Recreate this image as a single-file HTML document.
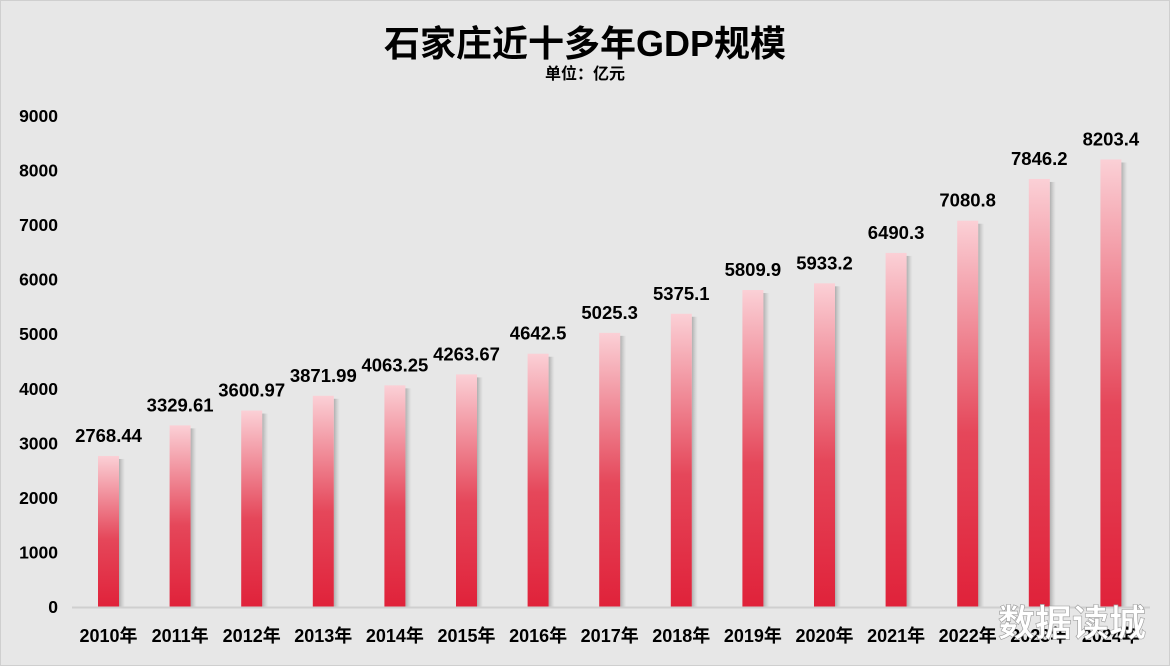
<!DOCTYPE html>
<html><head><meta charset="utf-8"><style>
html,body{margin:0;padding:0;background:#e7e7e7;}
svg{display:block;font-family:"Liberation Sans","Noto Sans CJK SC",sans-serif;}
</style></head><body>
<svg width="1170" height="666" viewBox="0 0 1170 666">
<defs>
<linearGradient id="g" x1="0" y1="0" x2="0" y2="1">
<stop offset="0" stop-color="#fbd0d6"/><stop offset="0.55" stop-color="#e5475a"/><stop offset="1" stop-color="#e0223a"/>
</linearGradient>
<linearGradient id="sh" x1="0" y1="0" x2="1" y2="0">
<stop offset="0" stop-color="#888" stop-opacity="0.6"/><stop offset="1" stop-color="#aaa" stop-opacity="0"/>
</linearGradient>
</defs>
<rect x="0.5" y="0.5" width="1169" height="665" fill="#e7e7e7" stroke="#cfcfcf"/>
<text x="585" y="56" text-anchor="middle" font-size="36" font-weight="bold" fill="#000">石家庄近十多年GDP规模</text>
<text x="585" y="79" text-anchor="middle" font-size="16" font-weight="bold" fill="#000">单位：亿元</text>
<g id="yax"></g><g id="bars"></g>
<line x1="72" y1="607.5" x2="1150" y2="607.5" stroke="#cfcfcf" stroke-width="2"/>
<text x="1072" y="636" text-anchor="middle" font-size="37" font-weight="bold" fill="#fff" stroke="#999" stroke-width="0.6">数据读城</text>
</svg>
<script>
const categories=["2010年","2011年","2012年","2013年","2014年","2015年","2016年","2017年","2018年","2019年","2020年","2021年","2022年","2023年","2024年"];
const values=[2768.44,3329.61,3600.97,3871.99,4063.25,4263.67,4642.5,5025.3,5375.1,5809.9,5933.2,6490.3,7080.8,7846.2,8203.4];
const valueLabels=["2768.44","3329.61","3600.97","3871.99","4063.25","4263.67","4642.5","5025.3","5375.1","5809.9","5933.2","6490.3","7080.8","7846.2","8203.4"];
const yTicks=[0,1000,2000,3000,4000,5000,6000,7000,8000,9000];
const NS="http://www.w3.org/2000/svg";
const y0=607,y9=116,max=9000;
function yScale(v){return y0-(v/max)*(y0-y9);}
function xScale(i){return 108.5+i*71.6;}
const yax=document.getElementById('yax'),bars=document.getElementById('bars');
function mk(tag,attrs,parent){const e=document.createElementNS(NS,tag);for(const k in attrs)e.setAttribute(k,attrs[k]);parent.appendChild(e);return e;}
yTicks.forEach(t=>{
 const e=mk('text',{x:58,y:yScale(t)+6,'text-anchor':'end','font-size':17.5,'font-weight':'bold',fill:'#000'},yax);
 e.textContent=t;
 
 
});
values.forEach((v,i)=>{
 const cx=xScale(i),top=yScale(v),w=21;
 const s=mk('rect',{x:cx+w/2,y:top+3,width:6,height:y0-top-3,fill:'url(#sh)'},bars);
 
 
 const r=mk('rect',{x:cx-w/2,y:top,width:w,height:y0-top,fill:'url(#g)'},bars);
 
 
 const l=mk('text',{x:cx,y:top-14,'text-anchor':'middle','font-size':18.5,'font-weight':'bold',fill:'#000'},bars);
 l.textContent=valueLabels[i];
 
 
 const c=mk('text',{x:cx,y:642,'text-anchor':'middle','font-size':18,'font-weight':'bold',fill:'#000'},bars);
 c.textContent=categories[i];
 
 
});
</script>
</body></html>
